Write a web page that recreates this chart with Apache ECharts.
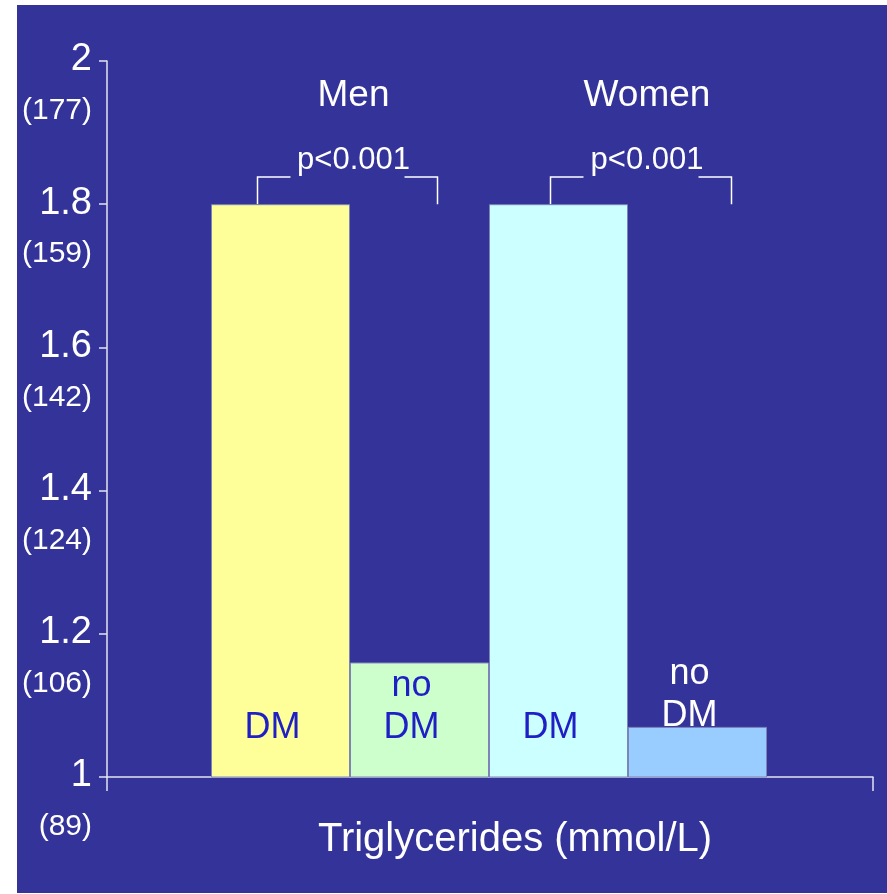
<!DOCTYPE html>
<html>
<head>
<meta charset="utf-8">
<script src="https://cdn.jsdelivr.net/npm/echarts@6/dist/echarts.min.js"></script>
<style>
html, body { margin: 0; background: #fff; }
#chart { position: absolute; left: 17px; top: 5px; width: 870px; height: 888px; }
</style>
</head>
<body>
<div id="chart"></div>
<script>
var groups = ['Men', 'Women'];
var categories = ['Men DM', 'Men no DM', 'Women DM', 'Women no DM'];
var values = [1.8, 1.16, 1.8, 1.07];
var barLabels = ['DM', 'no\nDM', 'DM', 'no\nDM'];
var yTicks = [1, 1.2, 1.4, 1.6, 1.8, 2];
var mgLabels = ['89', '106', '124', '142', '159', '177'];
var pLabels = ['p<0.001', 'p<0.001'];
var bracketTop = 1.838;

var font = '"Liberation Sans", Arial, sans-serif';
var axisColor = '#e4e4f0';
var barColors = ['#ffff99', '#ccffcc', '#ccffff', '#99ccff'];
var labelColors = ['#1f1fc6', '#1f1fc6', '#1f1fc6', '#ffffff'];
var labelDist = [28, 28, 28, 40];

var chart = echarts.init(document.getElementById('chart'));

var option = {
    backgroundColor: '#333399',
    animation: false,
    textStyle: { fontFamily: font },
    grid: [
        { left: 90, right: 14, top: 56, bottom: 116 },
        { left: 194, right: 120, top: 56, bottom: 116 }
    ],
    xAxis: [
        {
            gridIndex: 0,
            type: 'category',
            data: [''],
            boundaryGap: true,
            axisLine: { lineStyle: { color: axisColor, width: 1.5 } },
            axisTick: { show: true, length: 14, lineStyle: { color: axisColor, width: 1.5 } },
            axisLabel: { show: false },
            name: 'Triglycerides (mmol/L)',
            nameLocation: 'middle',
            nameGap: 43,
            nameTextStyle: { color: '#fff', fontSize: 40, fontFamily: font, padding: [0, 0, 0, 50] }
        },
        {
            gridIndex: 1,
            type: 'category',
            data: categories,
            show: false
        }
    ],
    yAxis: [
        {
            gridIndex: 0,
            type: 'value',
            min: 1,
            max: 2,
            interval: 0.2,
            splitLine: { show: false },
            axisLine: { show: true, lineStyle: { color: axisColor, width: 1.5 } },
            axisTick: { show: true, length: 8, lineStyle: { color: axisColor, width: 1.5 } },
            axisLabel: {
                margin: 15,
                align: 'right',
                padding: [64, 0, 0, 0],
                formatter: function (v) {
                    var i = yTicks.indexOf(Math.round(v * 10) / 10);
                    return '{a|' + v + '}\n{b|(' + mgLabels[i] + ')}';
                },
                rich: {
                    a: { color: '#fff', fontSize: 38, lineHeight: 36, fontFamily: font, align: 'right' },
                    b: { color: '#fff', fontSize: 30, lineHeight: 66, fontFamily: font, align: 'right' }
                }
            }
        },
        {
            gridIndex: 1,
            type: 'value',
            min: 1,
            max: 2,
            show: false
        }
    ],
    series: [
        {
            type: 'bar',
            xAxisIndex: 1,
            yAxisIndex: 1,
            barCategoryGap: '0%',
            data: values.map(function (v, i) {
                return {
                    value: v,
                    itemStyle: { color: barColors[i], borderColor: '#7c84b8', borderWidth: 1 },
                    label: {
                        show: true,
                        position: 'insideBottom',
                        distance: labelDist[i],
                        offset: [-8, 0],
                        formatter: barLabels[i],
                        color: labelColors[i],
                        fontSize: 36,
                        lineHeight: 42,
                        fontFamily: font
                    }
                };
            })
        }
    ]
};

chart.setOption(option);

// brackets and group titles placed from the bar positions
var legOffsets = [[-23, 18], [-8, 34]];
var elems = [];
groups.forEach(function (g, i) {
    var a = chart.convertToPixel({ xAxisIndex: 1, yAxisIndex: 1 }, [categories[2 * i], values[2 * i]]);
    var b = chart.convertToPixel({ xAxisIndex: 1, yAxisIndex: 1 }, [categories[2 * i + 1], values[2 * i]]);
    var yt = chart.convertToPixel({ yAxisIndex: 1 }, bracketTop);
    var xl = a[0] + legOffsets[i][0];
    var xr = b[0] + legOffsets[i][1];
    var yb = a[1];
    var mid = (xl + xr) / 2 + 6;
    var ls = { stroke: '#fff', lineWidth: 1.5, fill: null };
    elems.push({ type: 'polyline', shape: { points: [[xl, yb], [xl, yt], [xl + 33, yt]] }, style: ls });
    elems.push({ type: 'polyline', shape: { points: [[xr - 33, yt], [xr, yt], [xr, yb]] }, style: ls });
    elems.push({
        type: 'text', x: mid, y: yt - 17,
        style: { text: pLabels[i], fill: '#fff', font: '31px ' + font, textAlign: 'center', textVerticalAlign: 'middle' }
    });
    elems.push({
        type: 'text', x: mid, y: yt - 81,
        style: { text: g, fill: '#fff', font: '37px ' + font, textAlign: 'center', textVerticalAlign: 'middle' }
    });
});
chart.setOption({ graphic: elems });
</script>
</body>
</html>
